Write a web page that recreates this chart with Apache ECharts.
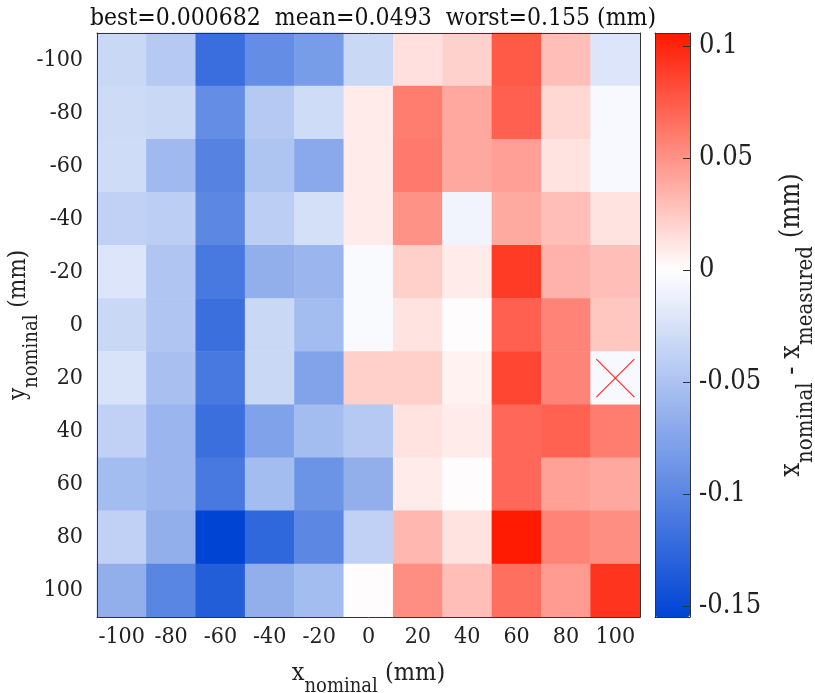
<!DOCTYPE html>
<html>
<head>
<meta charset="utf-8">
<script src="https://cdn.jsdelivr.net/npm/echarts@6/dist/echarts.min.js"></script>
<style>html,body{margin:0;padding:0;background:#fff}#c{width:815px;height:693px}</style>
</head>
<body>
<div id="c"></div>
<script>
const xCats = ['-100','-80','-60','-40','-20','0','20','40','60','80','100'];
const yCats = ['-100','-80','-60','-40','-20','0','20','40','60','80','100'];
// rows: y = -100 (top) ... 100 (bottom); columns: x = -100 ... 100
const row_m100 = [-0.033,-0.045,-0.120,-0.094,-0.082,-0.033, 0.014, 0.021, 0.076, 0.030,-0.021];
const row_m80  = [-0.030,-0.033,-0.094,-0.045,-0.029, 0.009, 0.060, 0.040, 0.073, 0.018,-0.005];
const row_m60  = [-0.029,-0.058,-0.103,-0.049,-0.071, 0.009, 0.061, 0.040, 0.044, 0.013,-0.005];
const row_m40  = [-0.038,-0.041,-0.099,-0.041,-0.026, 0.009, 0.050,-0.009, 0.039, 0.030, 0.013];
const row_m20  = [-0.021,-0.048,-0.111,-0.066,-0.061,-0.004, 0.022, 0.009, 0.090, 0.035, 0.030];
const row_0    = [-0.033,-0.048,-0.119,-0.033,-0.055,-0.004, 0.013, 0.000682, 0.073, 0.057, 0.026];
const row_20   = [-0.024,-0.053,-0.111,-0.033,-0.076, 0.022, 0.022, 0.006, 0.085, 0.057,-0.005];
const row_40   = [-0.038,-0.061,-0.119,-0.077,-0.055,-0.045, 0.013, 0.009, 0.069, 0.072, 0.060];
const row_60   = [-0.055,-0.061,-0.111,-0.055,-0.090,-0.066, 0.009, 0.001, 0.069, 0.043, 0.040];
const row_80   = [-0.038,-0.066,-0.155,-0.126,-0.099,-0.038, 0.033, 0.013, 0.105, 0.057, 0.052];
const row_100  = [-0.066,-0.101,-0.134,-0.066,-0.055, 0.001, 0.052, 0.030, 0.066, 0.046, 0.093];
const rows = [row_m100,row_m80,row_m60,row_m40,row_m20,row_0,row_20,row_40,row_60,row_80,row_100];
const cbMin = -0.155, cbMax = 0.106;
const cbTicks = [0.1, 0.05, 0, -0.05, -0.1, -0.15];
const cbTickLabels = ['0.1','0.05','0','-0.05','-0.1','-0.15'];
const crossCell = ['100','20'];
const titleText = 'best=0.000682  mean=0.0493  worst=0.155 (mm)';

const FONT = "'DejaVu Serif Condensed','DejaVu Serif',serif";
const BLUE = [0,68,212], RED = [255,24,0], WHITE = [255,255,255];
function mix(a,b,t){return 'rgb('+a.map((v,i)=>Math.round(v+(b[i]-v)*t)).join(',')+')';}
function cmap(v){
  if (v < 0) return mix(WHITE, BLUE, Math.min(1, -v/(-cbMin)));
  return mix(WHITE, RED, Math.min(1, v/cbMax));
}
const cbColors = [];
const NC = 80;
for (let i = 0; i <= NC; i++) cbColors.push(cmap(cbMin + (cbMax-cbMin)*i/NC));

const heatData = [];
rows.forEach((r, yi) => r.forEach((v, xi) => heatData.push([xi, yi, v])));

const axisColor = '#333';
const labelColor = '#222';
function nameRich(m, s){
  return {
    m: {fontFamily: FONT, fontSize: m, color: labelColor, verticalAlign: 'top', lineHeight: m + 4},
    s: {fontFamily: FONT, fontSize: s, color: labelColor, verticalAlign: 'top', lineHeight: s + 4, padding: [Math.round(m*0.62),0,0,0]}
  };
}
const chart = echarts.init(document.getElementById('c'));
chart.setOption({
  animation: false,
  backgroundColor: '#fff',
  title: {
    text: titleText, left: 368, top: 1, textAlign: 'center',
    textStyle: {fontFamily: FONT, fontSize: 24.5, fontWeight: 'normal', color: '#111'}
  },
  grid: [
    {left: 97, top: 33, width: 543, height: 584, containLabel: false, outerBoundsMode: 'none'},
    {left: 655, top: 33, width: 35, height: 584, containLabel: false, outerBoundsMode: 'none'}
  ],
  xAxis: [
    {type: 'category', data: xCats, gridIndex: 0, position: 'bottom', z: 10,
     axisLine: {lineStyle: {color: axisColor, width: 1}},
     axisTick: {alignWithLabel: true, length: 7, lineStyle: {color: axisColor}},
     axisLabel: {fontFamily: FONT, fontSize: 23, color: labelColor, margin: 9, interval: 0},
     splitLine: {show: false},
     name: '{m|x}{s|nominal}{m| (mm)}', nameLocation: 'middle', nameGap: 44,
     nameTextStyle: {fontFamily: FONT, color: labelColor, rich: nameRich(25, 20)}},
    {type: 'category', data: xCats, gridIndex: 0, position: 'top', z: 10,
     axisLine: {lineStyle: {color: axisColor}}, axisTick: {show: false}, axisLabel: {show: false}},
    {type: 'value', gridIndex: 1, min: 0, max: 1, position: 'bottom', z: 10,
     axisLine: {show: true, onZero: false, lineStyle: {color: axisColor}}, axisTick: {show: false}, axisLabel: {show: false}, splitLine: {show: false}},
    {type: 'value', gridIndex: 1, min: 0, max: 1, position: 'top', z: 10,
     axisLine: {show: true, onZero: false, lineStyle: {color: axisColor}}, axisTick: {show: false}, axisLabel: {show: false}, splitLine: {show: false}}
  ],
  yAxis: [
    {type: 'category', data: yCats, gridIndex: 0, inverse: true, position: 'left', z: 10,
     axisLine: {lineStyle: {color: axisColor}},
     axisTick: {alignWithLabel: true, length: 7, lineStyle: {color: axisColor}},
     axisLabel: {fontFamily: FONT, fontSize: 23, color: labelColor, margin: 14, interval: 0},
     splitLine: {show: false},
     name: '{m|y}{s|nominal}{m| (mm)}', nameLocation: 'middle', nameGap: 62, nameRotate: 90, nameMoveOverlap: false,
     nameTextStyle: {fontFamily: FONT, color: labelColor, rich: nameRich(24, 20)}},
    {type: 'category', data: yCats, gridIndex: 0, inverse: true, position: 'right', z: 10,
     axisLine: {lineStyle: {color: axisColor}}, axisTick: {show: false}, axisLabel: {show: false}},
    {type: 'value', gridIndex: 1, min: cbMin, max: cbMax, position: 'right', z: 10,
     axisLine: {show: true, onZero: false, lineStyle: {color: axisColor}},
     axisTick: {show: true, inside: true, length: 7, customValues: cbTicks, lineStyle: {color: axisColor}},
     axisLabel: {fontFamily: FONT, fontSize: 27, color: labelColor, margin: 9, customValues: cbTicks,
       formatter: v => { const i = cbTicks.findIndex(t => Math.abs(t - v) < 1e-9); return i >= 0 ? cbTickLabels[i] : ''; }},
     splitLine: {show: false},
     name: '{m|x}{s|nominal}{m| - x}{s|measured}{m| (mm)}', nameLocation: 'middle', nameGap: 88, nameRotate: 90, nameMoveOverlap: false,
     nameTextStyle: {fontFamily: FONT, color: labelColor, rich: nameRich(27, 22)}},
    {type: 'value', gridIndex: 1, min: cbMin, max: cbMax, position: 'left', z: 10,
     axisLine: {show: true, onZero: false, lineStyle: {color: axisColor}}, axisTick: {show: false}, axisLabel: {show: false}, splitLine: {show: false}}
  ],
  visualMap: {
    type: 'continuous', min: cbMin, max: cbMax, seriesIndex: 0, calculable: false,
    orient: 'vertical', left: 655, top: 33, itemWidth: 35, itemHeight: 584, padding: 0,
    text: null, showLabel: false, hoverLink: false,
    inRange: {color: cbColors}
  },
  series: [
    {type: 'heatmap', xAxisIndex: 0, yAxisIndex: 0, data: heatData, itemStyle: {borderWidth: 0}, emphasis: {disabled: true}},
    {type: 'scatter', xAxisIndex: 0, yAxisIndex: 0, data: [crossCell], symbol: 'path://M0 0L10 10M10 0L0 10',
     symbolSize: 38, itemStyle: {color: 'none', borderColor: '#ff0000', borderWidth: 1.3}, z: 5, emphasis: {disabled: true}}
  ]
});
</script>
</body>
</html>
